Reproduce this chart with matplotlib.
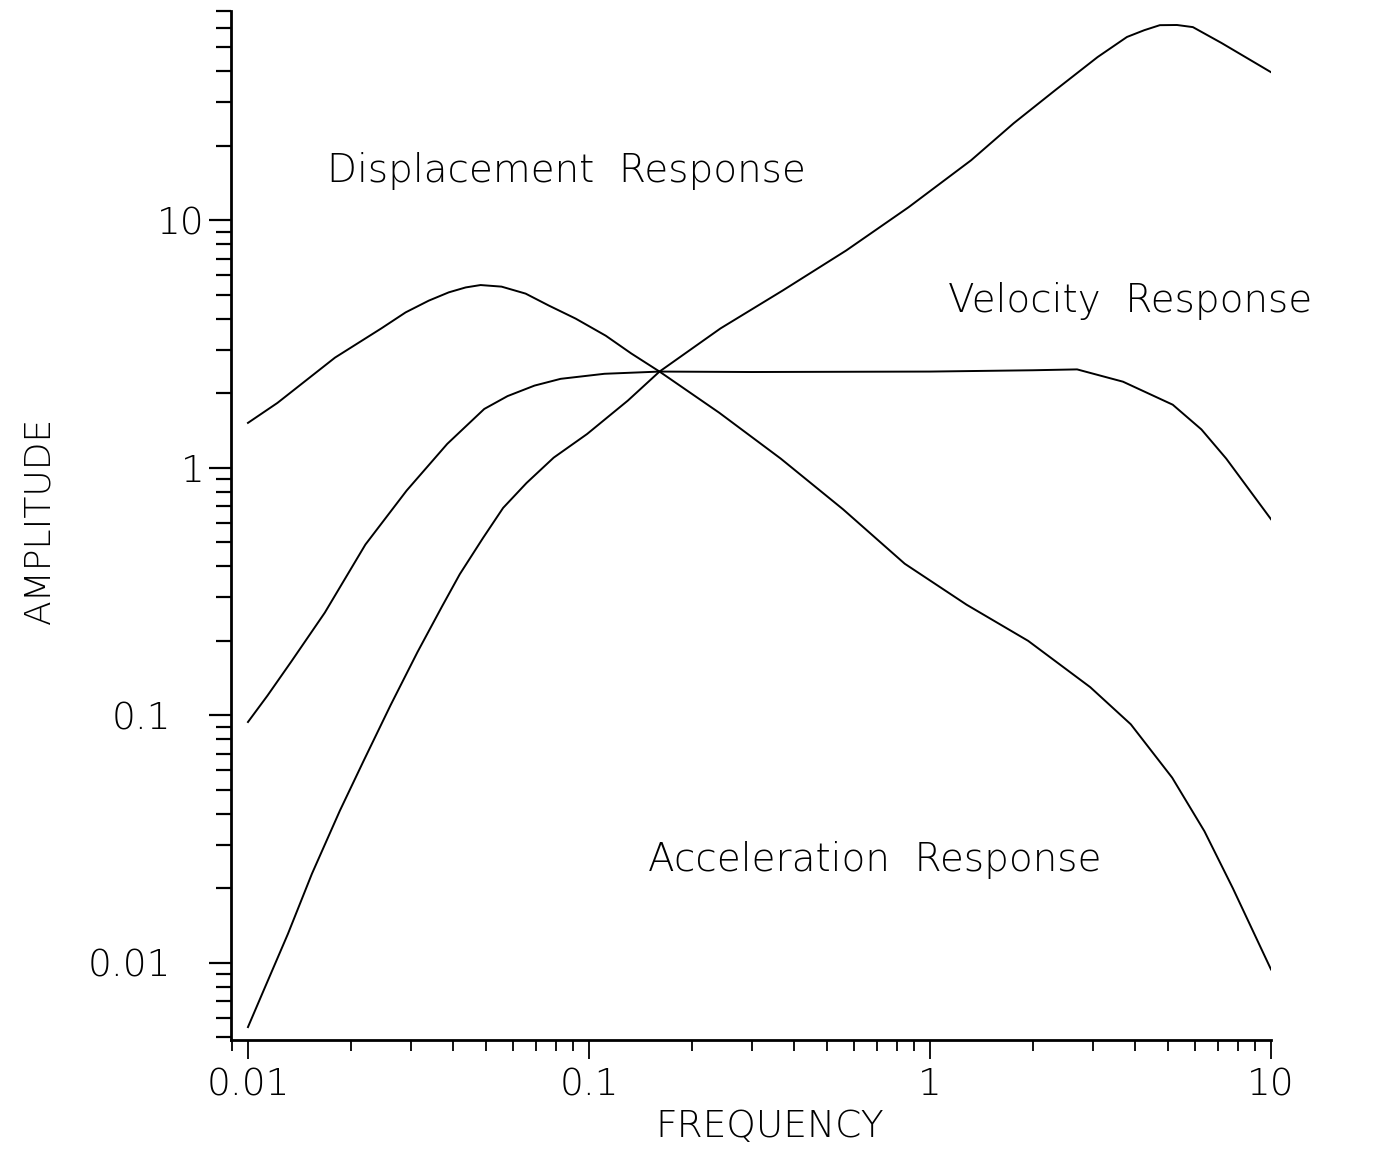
import numpy as np
import matplotlib
matplotlib.use("Agg")
import matplotlib.pyplot as plt
import matplotlib.transforms as mtransforms
from matplotlib.ticker import FixedLocator, LogLocator, NullFormatter

# Displacement response (amplitude vs frequency)
disp_freq = [0.010, 0.0122, 0.0180, 0.0246, 0.0290, 0.0339, 0.0388, 0.0435, 0.0481,
             0.0554, 0.0652, 0.0762, 0.0914, 0.112, 0.133, 0.161, 0.241, 0.365,
             0.556, 0.843, 1.28, 1.94, 2.95, 3.88, 5.13, 6.38, 7.73, 10.0]
disp_amp = [1.52, 1.83, 2.79, 3.66, 4.25, 4.74, 5.12, 5.36, 5.48,
            5.40, 5.06, 4.53, 4.01, 3.42, 2.90, 2.45, 1.67, 1.09,
            0.68, 0.41, 0.28, 0.20, 0.13, 0.092, 0.056, 0.034, 0.020, 0.0094]

# Velocity response
vel_freq = [0.010, 0.0114, 0.0134, 0.0168, 0.0221, 0.0292, 0.0384, 0.0493, 0.0577,
            0.0692, 0.0826, 0.111, 0.161, 0.30, 1.0, 2.0, 2.70, 3.68, 5.15,
            6.25, 7.39, 10.0]
vel_amp = [0.094, 0.120, 0.165, 0.260, 0.49, 0.81, 1.25, 1.73, 1.95,
           2.15, 2.29, 2.40, 2.45, 2.44, 2.45, 2.48, 2.50, 2.23, 1.80,
           1.43, 1.09, 0.62]

# Acceleration response
acc_freq = [0.010, 0.0111, 0.0131, 0.0154, 0.0186, 0.0218, 0.0262, 0.0314, 0.0371,
            0.0418, 0.0489, 0.0560, 0.0656, 0.0788, 0.0987, 0.130, 0.161, 0.243,
            0.370, 0.568, 0.865, 1.32, 1.76, 2.33, 3.10, 3.78, 4.25, 4.72, 5.30,
            5.90, 7.16, 10.0]
acc_amp = [0.0055, 0.0077, 0.0131, 0.0229, 0.0412, 0.0652, 0.110, 0.180, 0.276,
           0.372, 0.521, 0.689, 0.869, 1.10, 1.37, 1.87, 2.45, 3.66,
           5.21, 7.56, 11.3, 17.5, 24.7, 33.6, 45.7, 55.1, 58.7, 61.5, 61.6,
           60.4, 52.1, 39.7]

major_ticks = [0.01, 0.1, 1, 10]
major_labels = ["0.01", "0.1", "1", "10"]

plt.rcParams['font.family'] = ['DejaVu Sans']
plt.rcParams['font.weight'] = 'light'
plt.rcParams['axes.labelweight'] = 'light'

fig = plt.figure(figsize=(13.79, 11.49), dpi=100)
ax = fig.add_axes([0.1673, 0.0953, 0.7544, 0.8949])
ax.set_xscale('log')
ax.set_yscale('log')

for f, a in [(disp_freq, disp_amp), (vel_freq, vel_amp), (acc_freq, acc_amp)]:
    ax.plot(f, a, color='black', lw=1.4, solid_joinstyle='round')

ax.set_xlim(0.0089, 10)
ax.set_ylim(0.0049, 70)

ax.spines['top'].set_visible(False)
ax.spines['right'].set_visible(False)
for s in ('left', 'bottom'):
    ax.spines[s].set_linewidth(2.0)

for axis in (ax.xaxis, ax.yaxis):
    axis.set_major_locator(FixedLocator(major_ticks))
    axis.set_minor_locator(LogLocator(base=10, subs=np.arange(2, 10), numticks=20))
    axis.set_minor_formatter(NullFormatter())
ax.set_xticklabels(major_labels)
ax.set_yticklabels(major_labels)

ax.tick_params(axis='y', which='major', length=16, width=1.6, pad=3, labelsize=27)
ax.tick_params(axis='y', which='minor', length=11, width=1.6)
ax.tick_params(axis='x', which='major', length=14, width=1.3, pad=6, labelsize=27)
ax.tick_params(axis='x', which='minor', length=8, width=1.3)

# the decimal labels on the amplitude axis sit further out from the spine
shift = mtransforms.ScaledTranslation(-33 / 100, 0, fig.dpi_scale_trans)
for lab in ax.get_yticklabels():
    if lab.get_text().startswith("0."):
        lab.set_transform(lab.get_transform() + shift)

ax.set_xlabel("FREQUENCY", fontsize=27)
ax.xaxis.set_label_coords(0.518, -0.068)
ax.set_ylabel("AMPLITUDE", fontsize=26)
ax.yaxis.set_label_coords(-0.168, 0.505)

ax.text(0.0171, 15.9, "Displacement  Response", fontsize=28, va='center', ha='left')
ax.text(1.13, 4.74, "Velocity  Response", fontsize=28, va='center', ha='left')
ax.text(0.149, 0.0261, "Acceleration  Response", fontsize=28, va='center', ha='left')

plt.savefig("out.png", dpi=100, facecolor='white')
plt.close()
